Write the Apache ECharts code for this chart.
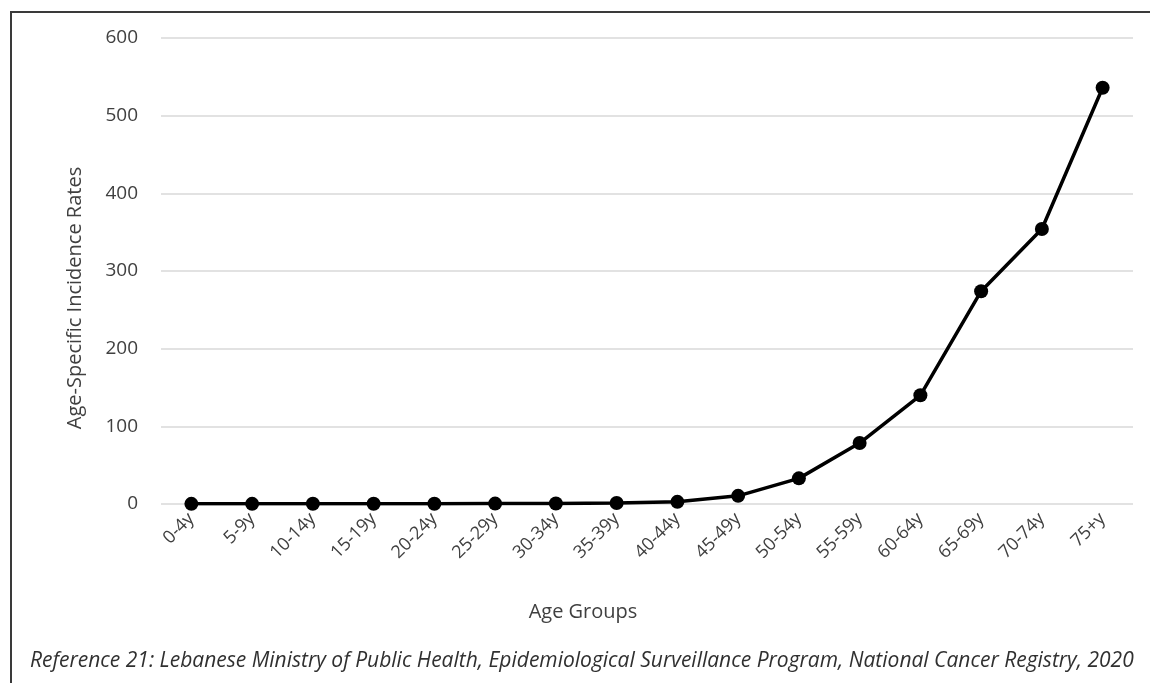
<!DOCTYPE html>
<html>
<head>
<meta charset="utf-8">
<script src="https://cdn.jsdelivr.net/npm/echarts@6/dist/echarts.min.js"></script>
<style>
  html, body { margin: 0; padding: 0; background: #fff; overflow: hidden; }
  #frame { position: absolute; left: 10px; top: 11px; width: 1200px; height: 700px; border: 2px solid #3a3a3a; box-sizing: border-box; }
  #chart { position: absolute; left: 0; top: 0; width: 1150px; height: 683px; }
</style>
</head>
<body>
<div id="frame"></div>
<div id="chart"></div>
<script>
const categories = ['0-4y','5-9y','10-14y','15-19y','20-24y','25-29y','30-34y','35-39y','40-44y','45-49y','50-54y','55-59y','60-64y','65-69y','70-74y','75+y'];
const rates = [0.2, 0.2, 0.3, 0.3, 0.4, 0.5, 0.6, 1.2, 2.8, 10.5, 33, 78.5, 140, 274, 354, 536];
const yTicks = { min: 0, max: 600, interval: 100 };
const xAxisTitle = 'Age Groups';
const yAxisTitle = 'Age-Specific Incidence Rates';
const sourceNote = 'Reference 21: Lebanese Ministry of Public Health, Epidemiological Surveillance Program, National Cancer Registry, 2020';

const font = '"Open Sans", "Noto Sans", sans-serif';
const chart = echarts.init(document.getElementById('chart'));
chart.setOption({
  animation: false,
  grid: { left: 161, right: 17, top: 38, bottom: 179 },
  xAxis: {
    type: 'category',
    data: categories,
    boundaryGap: true,
    axisLine: { show: false },
    axisTick: { show: false },
    axisLabel: { rotate: 45, fontSize: 18, color: '#404040', fontFamily: font, margin: 12, interval: 0 }
  },
  yAxis: {
    type: 'value',
    min: yTicks.min, max: yTicks.max, interval: yTicks.interval,
    axisLine: { show: false },
    axisTick: { show: false },
    splitLine: { lineStyle: { color: '#d9d9d9', width: 1.5 } },
    axisLabel: { fontSize: 19, color: '#404040', fontFamily: font, margin: 23 }
  },
  series: [{
    type: 'line',
    data: rates,
    symbol: 'circle',
    symbolSize: 14,
    itemStyle: { color: '#000' },
    lineStyle: { color: '#000', width: 3.5 }
  }],
  graphic: [
    { type: 'text', x: 583, y: 612, style: { text: xAxisTitle, font: '20px ' + font, fill: '#404040', textAlign: 'center', textVerticalAlign: 'middle' } },
    { type: 'text', x: 75, y: 298, rotation: Math.PI / 2, style: { text: yAxisTitle, font: '20px ' + font, fill: '#404040', textAlign: 'center', textVerticalAlign: 'middle' } },
    { type: 'text', x: 30, y: 661, style: { text: sourceNote, font: 'italic 21px ' + font, fill: '#303030', textAlign: 'left', textVerticalAlign: 'middle' } }
  ]
});
</script>
</body>
</html>
